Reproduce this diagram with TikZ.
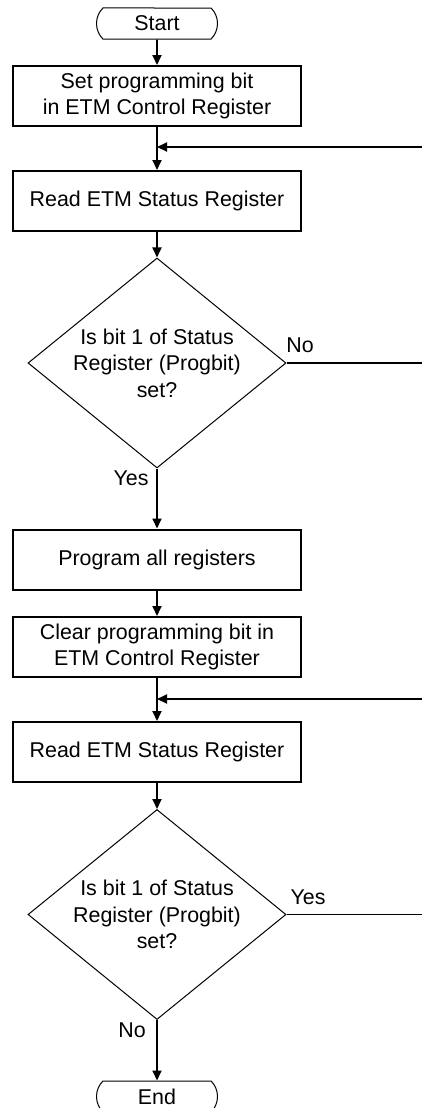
\documentclass[tikz,border=0pt]{standalone}
\usepackage{fontspec}
\setmainfont{Liberation Sans}
\usetikzlibrary{shapes.geometric,shapes.misc,arrows.meta}

\newcommand{\flowfontsize}{\fontsize{10.7pt}{13.3pt}\selectfont}
\tikzstyle{terminal}=[
    draw,
    rounded rectangle,
    rounded rectangle arc length=90,
    minimum width=60.5pt,
    minimum height=15.5pt,
    inner sep=0pt,
    line width=0.5pt
]
\tikzstyle{process}=[
    draw,
    rectangle,
    minimum width=144pt,
    minimum height=30pt,
    inner sep=0pt,
    align=center,
    line width=1pt
]
\tikzstyle{decision}=[
    draw,
    diamond,
    minimum width=129pt,
    minimum height=105pt,
    inner sep=0pt,
    line width=0.5pt
]
\tikzstyle{flowoptions}=[
    x=0.5pt,
    y=-0.5pt,
    every path/.append style={line width=0.9pt},
    >={Triangle[length=5pt,width=4.5pt]},
    font=\flowfontsize
]

\begin{document}
\begin{tikzpicture}[flowoptions]
    \useasboundingbox (0,0) rectangle (422,1108);

    % nodes
    \node[terminal] (start) at (157,23.5) {Start};
    \node[process] (set1) at (157,96) {Set programming bit\\in ETM Control Register};
    \node[process] (read1) at (157,201) {Read ETM Status Register};
    \node[decision,label={[align=center]center:Is bit 1 of Status\\Register (Progbit)\\set?}] (dec1) at (157,363) {};
    \node[process] (prog) at (157,559.5) {Program all registers};
    \node[process] (clear) at (157,647) {Clear programming bit in\\ETM Control Register};
    \node[process] (read2) at (157,752) {Read ETM Status Register};
    \node[decision,label={[align=center]center:Is bit 1 of Status\\Register (Progbit)\\set?}] (dec2) at (157,914.5) {};
    \node[terminal] (stop) at (157,1096.5) {End};

    % labels
    \node (no1) at (300,345) {No};
    \node (yes1) at (131,478) {Yes};
    \node (yes2) at (308,897) {Yes};
    \node (no2) at (132,1030) {No};

    % junctions and loop ends
    \coordinate (join1) at (157,147);
    \coordinate (join2) at (157,699);
    \coordinate (loop1) at (422,147);
    \coordinate (loop2) at (422,699);
    \coordinate (out1) at (422,363);
    \coordinate (out2) at (422,914.5);

    % edges
    \draw[->] (start) -- (set1);
    \draw (set1) -- (join1);
    \draw[->] (join1) -- (read1);
    \draw[->] (loop1) -- (join1);
    \draw[->] (read1) -- (dec1);
    \draw (dec1.east) -- (out1);
    \draw[->] (dec1) -- (prog);
    \draw[->] (prog) -- (clear);
    \draw (clear) -- (join2);
    \draw[->] (join2) -- (read2);
    \draw[->] (loop2) -- (join2);
    \draw[->] (read2) -- (dec2);
    \draw (dec2.east) -- (out2);
    \draw[->] (dec2) -- (stop);
\end{tikzpicture}
\end{document}
